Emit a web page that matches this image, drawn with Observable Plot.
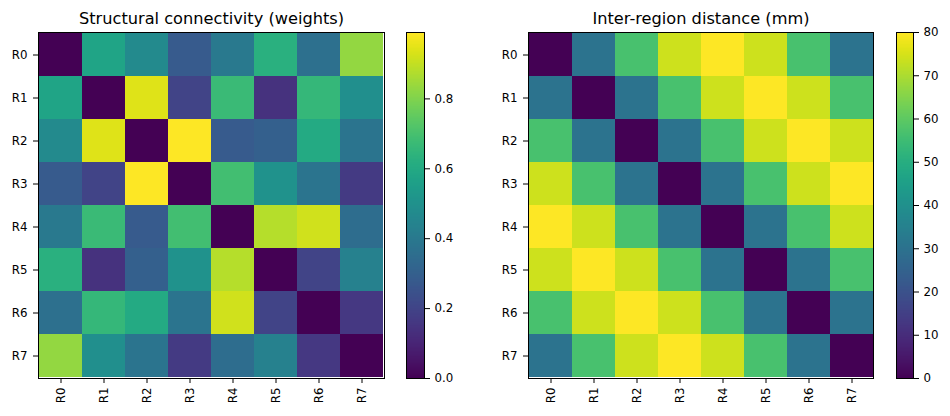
<!DOCTYPE html>
<html>
<head>
<meta charset="utf-8">
<script src="https://cdn.jsdelivr.net/npm/d3@7"></script>
<script src="https://cdn.jsdelivr.net/npm/@observablehq/plot@0.6"></script>
<style>
  html, body { margin: 0; padding: 0; background: #fff; }
  #chart { position: relative; width: 950px; height: 416px; font-family: "DejaVu Sans", sans-serif; }
  #chart > svg { position: absolute; top: 0; }
</style>
</head>
<body>
<div id="chart"></div>
<script>
// Region labels shared by both matrices
const regions = ["R0", "R1", "R2", "R3", "R4", "R5", "R6", "R7"];

// Structural connectivity weights (symmetric, zero diagonal)
const weightRows = [
  [0.00, 0.58, 0.47, 0.28, 0.40, 0.63, 0.36, 0.83],
  [0.58, 0.00, 0.94, 0.20, 0.67, 0.14, 0.66, 0.49],
  [0.47, 0.94, 0.00, 0.99, 0.28, 0.30, 0.60, 0.38],
  [0.28, 0.20, 0.99, 0.00, 0.69, 0.50, 0.38, 0.17],
  [0.40, 0.67, 0.28, 0.69, 0.00, 0.88, 0.92, 0.35],
  [0.63, 0.14, 0.30, 0.50, 0.88, 0.00, 0.20, 0.43],
  [0.36, 0.66, 0.60, 0.38, 0.92, 0.20, 0.00, 0.16],
  [0.83, 0.49, 0.38, 0.17, 0.35, 0.43, 0.16, 0.00]
];

// Inter-region distances in mm
const distanceRows = [
  [ 0.0, 30.6, 56.6, 73.9, 80.0, 73.9, 56.6, 30.6],
  [30.6,  0.0, 30.6, 56.6, 73.9, 80.0, 73.9, 56.6],
  [56.6, 30.6,  0.0, 30.6, 56.6, 73.9, 80.0, 73.9],
  [73.9, 56.6, 30.6,  0.0, 30.6, 56.6, 73.9, 80.0],
  [80.0, 73.9, 56.6, 30.6,  0.0, 30.6, 56.6, 73.9],
  [73.9, 80.0, 73.9, 56.6, 30.6,  0.0, 30.6, 56.6],
  [56.6, 73.9, 80.0, 73.9, 56.6, 30.6,  0.0, 30.6],
  [30.6, 56.6, 73.9, 80.0, 73.9, 56.6, 30.6,  0.0]
];

// Colorbar tick values
const weightTicks = [0.0, 0.2, 0.4, 0.6, 0.8];
const distanceTicks = [0, 10, 20, 30, 40, 50, 60, 70, 80];

const titles = ["Structural connectivity (weights)", "Inter-region distance (mm)"];

const H = 416, MT = 32, MB = 38;
const TICK_FONT = 11.8, TITLE_FONT = 16.2;
const chart = document.getElementById("chart");
const baseStyle = {fontFamily: "DejaVu Sans, sans-serif", fontSize: TICK_FONT + "px", color: "#000", background: "transparent", overflow: "visible"};

function cells(rows) {
  const out = [];
  rows.forEach((r, i) => r.forEach((v, j) => out.push({row: regions[i], col: regions[j], value: v})));
  return out;
}

function heatmap(rows, title, vmax, left, width, ml, mr) {
  const svg = Plot.plot({
    width, height: H,
    marginLeft: ml, marginRight: mr, marginTop: MT, marginBottom: MB,
    style: baseStyle,
    x: {domain: regions, padding: 0},
    y: {domain: regions, padding: 0},
    color: {type: "linear", scheme: "viridis", domain: [0, vmax]},
    marks: [
      Plot.cell(cells(rows), {x: "col", y: "row", fill: "value", shapeRendering: "crispEdges"}),
      Plot.frame({stroke: "#000", strokeWidth: 1}),
      Plot.axisX({anchor: "bottom", label: null, tickSize: 5, tickPadding: 4, tickRotate: -90, fontSize: TICK_FONT}),
      Plot.axisY({anchor: "left", label: null, tickSize: 5, tickPadding: 6, fontSize: TICK_FONT}),
      Plot.text([title], {frameAnchor: "top", lineAnchor: "top", dy: -20, fontSize: TITLE_FONT, text: d => d, fill: "#000"})
    ]
  });
  svg.style.left = left + "px";
  chart.appendChild(svg);
}

function colorbar(vmax, ticks, fmt, left, width, ml, mr) {
  const svg = Plot.plot({
    width, height: H,
    marginLeft: ml, marginRight: mr, marginTop: MT, marginBottom: MB,
    style: baseStyle,
    x: {domain: [0, 1], axis: null},
    y: {domain: [0, vmax]},
    color: {type: "linear", scheme: "viridis", domain: [0, vmax]},
    marks: [
      Plot.raster({x1: 0, x2: 1, y1: 0, y2: vmax, width: 1, height: 346, fill: (x, y) => y, imageRendering: "auto"}),
      Plot.frame({stroke: "#000", strokeWidth: 1}),
      Plot.axisY({anchor: "right", ticks, tickFormat: fmt, label: null, tickSize: 5, tickPadding: 5, fontSize: TICK_FONT})
    ]
  });
  svg.style.left = left + "px";
  chart.appendChild(svg);
}

const wMax = d3.max(weightRows.flat());
const dMax = d3.max(distanceRows.flat());

heatmap(weightRows, titles[0], wMax, 0, 400, 38, 16);
colorbar(wMax, weightTicks, d3.format(".1f"), 400, 80, 6, 56);
heatmap(distanceRows, titles[1], dMax, 480, 410, 48, 17);
colorbar(dMax, distanceTicks, d3.format("d"), 890, 60, 6, 37);
</script>
</body>
</html>
